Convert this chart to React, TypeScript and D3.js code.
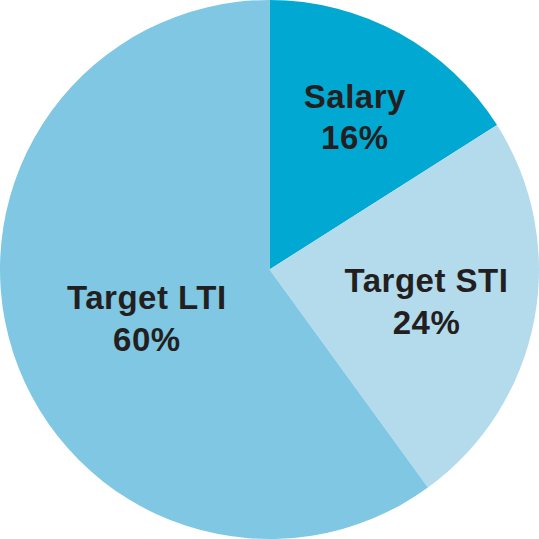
import React from "react";
import * as d3 from "d3";

const categories = ["Salary", "Target STI", "Target LTI"];
const values = [16, 24, 60];
const labels = ["16%", "24%", "60%"];
const colors = ["#00a8d2", "#b4dbec", "#7fc7e2"];
// label placement (first-line baseline): radius and angle offset (degrees) relative to slice mid-angle
const labelRadius = [183, 158.6, 129];
const labelAngleOffset = [-1.0, -2.6, 0];

export default function App() {
  const W = 539, H = 539;
  const cx = 269.5, cy = 269.5, r = 269.5;
  const pie = d3.pie<number>().sort(null).value((d) => d)(values);
  const arc = d3.arc<d3.PieArcDatum<number>>().innerRadius(0).outerRadius(r);
  return (
    <svg width={W} height={H} style={{ position: "absolute", left: 0, top: 0 }}>
      <g transform={`translate(${cx},${cy})`}>
        {pie.map((p, i) => (
          <path key={i} d={arc(p) || ""} fill={colors[i]} />
        ))}
        {pie.map((p, i) => {
          const mid = (p.startAngle + p.endAngle) / 2 + (labelAngleOffset[i] * Math.PI) / 180;
          const [x, y] = d3.pointRadial(mid, labelRadius[i]);
          return (
            <text
              key={"t" + i}
              x={x}
              y={y}
              textAnchor="middle"
              fontFamily="'Liberation Sans', Arial, sans-serif"
              fontWeight="bold"
              fontSize={33}
              letterSpacing={0.5}
              fill="#231f20"
            >
              <tspan x={x} dy={0}>{categories[i]}</tspan>
              <tspan x={x} dy={41.5}>{labels[i]}</tspan>
            </text>
          );
        })}
      </g>
    </svg>
  );
}
